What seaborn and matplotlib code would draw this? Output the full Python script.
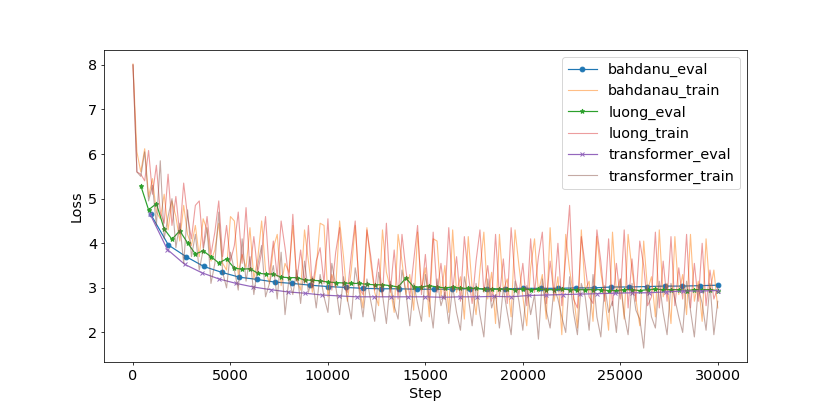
#!/usr/bin/env python
# coding: utf-8
"""
Training / evaluation loss curves for three seq2seq models
(bahdanau, luong, transformer).
"""

import matplotlib

matplotlib.use("Agg")
import matplotlib.pyplot as plt
import seaborn as sns

# ---------------------------------------------------------------- data
TRAIN_STEPS = list(range(0, 30001, 200))

BAHDANAU_TRAIN = [
    8.02, 6.05, 5.60, 6.12, 5.05, 5.45, 4.70, 4.55, 5.10, 4.30, 4.95, 4.60, 4.05, 4.85, 4.20, 3.95,
    4.40, 3.70, 4.55, 4.30, 3.60, 3.85, 4.45, 3.55, 3.40, 4.60, 4.50, 3.30, 3.75, 3.45, 4.35,
    3.20, 3.65, 4.50, 3.40, 3.10, 3.90, 4.20, 3.05, 3.55, 3.35, 4.40, 3.20, 2.95, 4.30, 3.60,
    2.90, 3.45, 4.45, 4.40, 2.80, 3.30, 3.00, 4.50, 3.70, 2.70, 3.40, 4.40, 3.05, 2.55, 4.35,
    3.55, 2.90, 2.60, 4.30, 3.35, 3.00, 2.45, 4.20, 3.60, 2.85, 3.30, 2.50, 4.25, 2.95, 3.45,
    2.35, 4.10, 4.05, 2.80, 3.50, 2.45, 4.30, 2.90, 3.25, 2.30, 4.15, 3.00, 2.40, 3.40, 4.25,
    2.75, 3.35, 2.20, 4.20, 2.95, 3.20, 2.35, 4.30, 3.50, 2.80, 2.15, 3.45, 4.10, 2.90, 3.30,
    2.30, 4.35, 2.70, 3.25, 1.95, 4.20, 3.40, 2.85, 2.10, 4.30, 2.95, 3.15, 2.25, 4.15, 3.35,
    2.80, 2.05, 4.25, 2.90, 3.20, 2.30, 4.20, 3.40, 2.75, 2.15, 4.05, 2.95, 3.25, 2.35, 4.30,
    2.80, 3.10, 2.20, 4.15, 2.85, 3.30, 2.40, 4.20, 2.70, 3.15, 2.25, 4.10, 2.90, 3.40, 2.55,
]

LUONG_TRAIN = [
    8.00, 5.60, 5.55, 5.40, 6.08, 5.10, 5.75, 4.70, 4.45, 5.55, 4.40, 5.05, 4.20, 5.35, 4.60, 4.10,
    4.85, 4.95, 3.90, 4.60, 3.75, 4.25, 4.95, 3.70, 4.40, 3.60, 3.95, 4.70, 3.55, 4.80, 3.40,
    4.15, 3.35, 3.80, 4.60, 3.30, 4.05, 3.25, 4.50, 3.90, 3.20, 4.65, 3.15, 3.85, 3.10, 4.40,
    3.00, 3.60, 3.90, 3.10, 4.55, 2.95, 3.80, 4.35, 3.05, 2.90, 3.75, 4.50, 3.00, 2.85, 4.30,
    3.70, 2.95, 3.65, 2.80, 4.45, 2.90, 3.85, 2.75, 4.20, 3.40, 2.80, 3.60, 4.40, 2.85, 3.75,
    2.70, 4.25, 2.90, 3.55, 2.75, 4.35, 2.95, 3.70, 2.70, 4.15, 3.30, 2.65, 3.60, 4.30, 2.90,
    3.50, 2.70, 4.20, 2.80, 3.65, 2.65, 4.35, 3.20, 2.85, 3.55, 2.60, 4.10, 2.90, 3.70, 4.25,
    2.65, 3.60, 2.85, 4.00, 2.60, 3.70, 4.85, 2.75, 2.55, 4.15, 3.50, 2.80, 2.65, 4.30, 3.60,
    2.70, 4.10, 2.60, 3.55, 2.75, 4.30, 2.55, 3.65, 2.70, 4.05, 3.50, 2.60, 2.80, 4.25, 2.55,
    3.60, 2.70, 4.15, 2.60, 3.45, 2.75, 4.20, 2.55, 3.55, 2.70, 4.00, 2.60, 3.40, 2.75, 3.00,
]

TRANSFORMER_TRAIN = [
    8.00, 5.60, 5.50, 6.05, 4.95, 5.30, 4.40, 5.85, 4.10, 4.60, 5.00, 3.90, 4.45, 3.55, 4.75, 3.70,
    4.20, 3.40, 3.85, 4.35, 3.10, 3.55, 4.70, 3.35, 3.00, 3.80, 3.40, 2.95, 4.10, 3.15, 3.70,
    2.85, 3.50, 3.95, 2.80, 3.10, 3.50, 2.75, 3.80, 2.40, 3.20, 2.85, 3.40, 2.65, 3.60, 2.90,
    3.25, 2.55, 3.30, 2.80, 2.45, 3.55, 3.05, 2.40, 3.25, 2.75, 2.30, 3.45, 2.95, 2.35, 3.20,
    2.70, 2.25, 3.35, 2.85, 2.20, 3.15, 2.60, 2.30, 3.40, 2.90, 2.15, 3.10, 2.65, 2.25, 3.30,
    2.75, 2.10, 3.20, 2.60, 2.90, 2.20, 3.05, 2.45, 2.05, 3.25, 2.80, 2.15, 3.10, 2.40, 1.90,
    3.20, 2.55, 2.85, 2.10, 3.00, 2.45, 1.95, 3.15, 2.70, 2.05, 3.05, 2.40, 2.85, 1.85, 3.20,
    2.50, 2.10, 3.00, 2.75, 2.35, 2.00, 3.25, 2.45, 1.95, 3.10, 2.80, 2.05, 3.30, 2.35, 1.90,
    3.05, 2.45, 2.70, 2.00, 3.20, 2.40, 1.95, 3.10, 2.50, 2.30, 1.65, 3.00, 2.35, 2.10, 3.15,
    2.45, 1.95, 3.10, 2.75, 2.35, 2.00, 3.15, 2.50, 1.90, 3.00, 2.65, 2.05, 3.10, 1.95, 2.70,
]

BAHDANAU_EVAL_STEPS = [round(30000 * i / 33) for i in range(1, 34)]
BAHDANAU_EVAL = [
    4.65, 3.96, 3.70, 3.48, 3.35, 3.24, 3.19, 3.13, 3.10, 3.06, 3.03, 3.01,
    2.99, 2.98, 2.98, 2.97, 2.97, 2.97, 2.98, 2.98, 2.98,
    2.99, 2.99, 2.99, 3.00, 3.00, 3.02, 3.02, 3.03, 3.04, 3.04, 3.05, 3.06,
]

LUONG_EVAL_STEPS = [400 * i for i in range(1, 76)]
LUONG_EVAL = [
    5.29, 4.75, 4.89, 4.32, 4.09, 4.28, 4.01, 3.76, 3.83, 3.70, 3.56, 3.65, 3.44, 3.42,
    3.43, 3.33, 3.31, 3.31, 3.24, 3.23, 3.23, 3.18, 3.17, 3.16, 3.13, 3.12, 3.11,
    3.10, 3.10, 3.08, 3.07, 3.07, 3.05, 3.02, 3.22, 3.02, 3.02, 3.05, 3.02, 3.00, 3.02,
    2.99, 2.99, 2.99, 2.97, 2.97, 2.97, 2.97, 2.96, 2.97, 2.96, 2.97, 2.96, 2.96, 2.97,
    2.96, 2.96, 2.96, 2.96, 2.96, 2.94, 2.94, 2.96, 2.96, 2.94, 2.96, 2.97, 2.96, 2.96,
    2.96, 2.94, 2.96, 2.96, 2.96, 2.94,
]

TRANSFORMER_EVAL_STEPS = [round(30000 * i / 34) for i in range(1, 35)]
TRANSFORMER_EVAL = [
    4.65, 3.86, 3.53, 3.34, 3.20, 3.10, 3.02, 2.96, 2.91, 2.88, 2.84, 2.82,
    2.80, 2.80, 2.80, 2.80, 2.80, 2.79, 2.80, 2.80, 2.81, 2.80, 2.83,
    2.84, 2.85, 2.86, 2.87, 2.88, 2.89, 2.89, 2.91, 2.93, 2.93, 2.94,
]

FONT_SIZE = 15
DPI = 830 / 12


def plot_eval(ax, steps, values, label, color, marker, size):
    sns.lineplot(
        x=steps, y=values, ax=ax, label=label, color=color,
        marker=marker, markersize=size, markeredgecolor=color,
        markeredgewidth=1.0, linewidth=1.25, sort=False, estimator=None,
    )


def plot_train(ax, steps, values, label, color, alpha):
    sns.lineplot(
        x=steps, y=values, ax=ax, label=label, color=color,
        alpha=alpha, linewidth=1.15, sort=False, estimator=None,
    )


def main():
    plt.rcParams["font.family"] = ["DejaVu Sans"]
    fig, ax = plt.subplots(figsize=(12, 6), dpi=DPI)
    fig.subplots_adjust(left=0.125, right=0.9, bottom=0.127, top=0.88)

    plot_eval(ax, BAHDANAU_EVAL_STEPS, BAHDANAU_EVAL, "bahdanu_eval", "C0", "o", 5)
    plot_train(ax, TRAIN_STEPS, BAHDANAU_TRAIN, "bahdanau_train", "C1", 0.5)
    plot_eval(ax, LUONG_EVAL_STEPS, LUONG_EVAL, "luong_eval", "C2", "*", 5)
    plot_train(ax, TRAIN_STEPS, LUONG_TRAIN, "luong_train", "C3", 0.45)
    plot_eval(ax, TRANSFORMER_EVAL_STEPS, TRANSFORMER_EVAL, "transformer_eval", "C4", "x", 4.5)
    plot_train(ax, TRAIN_STEPS, TRANSFORMER_TRAIN, "transformer_train", "C5", 0.5)

    ax.set_xlabel("Step", fontsize=FONT_SIZE)
    ax.set_ylabel("Loss", fontsize=FONT_SIZE)
    ax.tick_params(labelsize=FONT_SIZE)
    ax.legend(loc="upper right", fontsize=FONT_SIZE)

    fig.savefig("out.png", dpi=DPI)


if __name__ == "__main__":
    main()
